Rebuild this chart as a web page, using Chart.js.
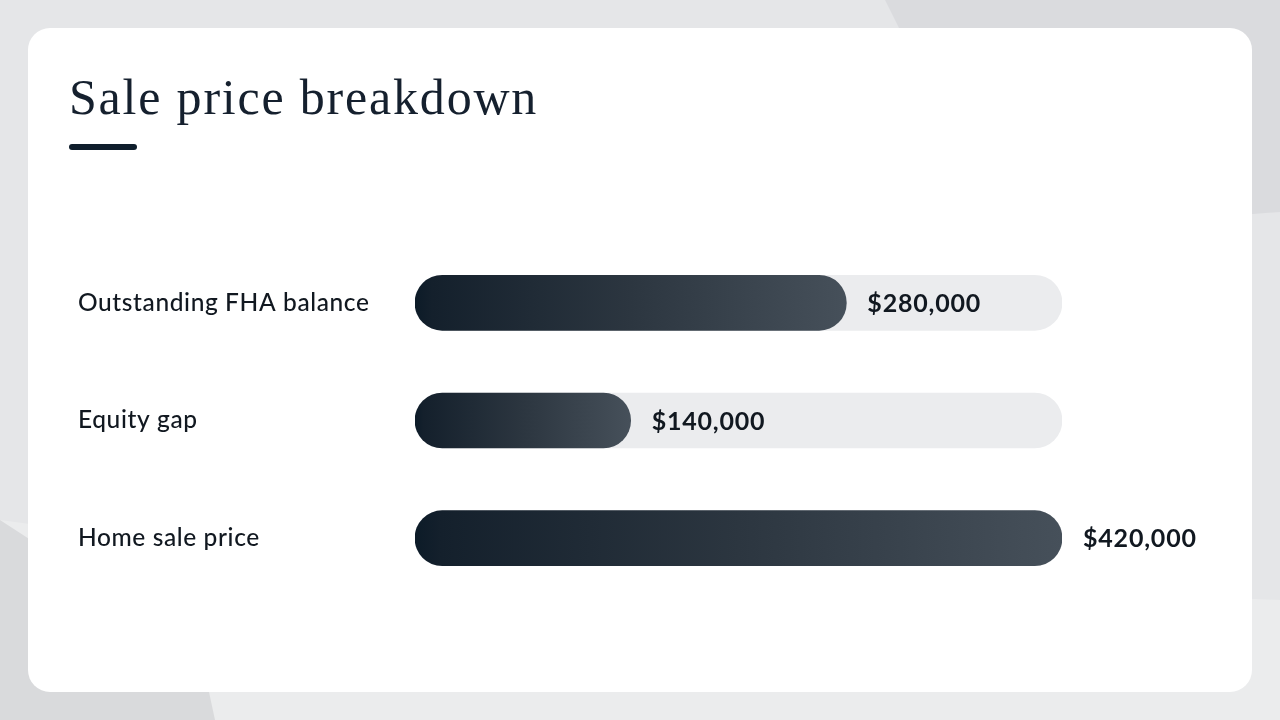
<!DOCTYPE html>
<html>
<head>
<meta charset="utf-8">
<script src="https://cdn.jsdelivr.net/npm/chart.js@4.4.1/dist/chart.umd.min.js"></script>
<style>
    html, body { margin: 0; padding: 0; }
    body {
        width: 1280px;
        height: 720px;
        position: relative;
        overflow: hidden;
        background: #e5e6e8;
    }
    .shape { position: absolute; left: 0; top: 0; width: 1280px; height: 720px; }
    #shapeTop { background: #dadbde; clip-path: polygon(885px 0, 1280px 0, 1280px 212px, 1240px 215px, 905px 40px); }
    #shapeBottom { background: #ebeced; clip-path: polygon(0 520px, 300px 560px, 1280px 600px, 1280px 720px, 215px 720px, 0 700px); }
    #shapeCorner { background: #d9dadc; clip-path: polygon(0 520px, 200px 650px, 215px 720px, 0 720px); }
    .card {
        position: absolute;
        left: 28px;
        top: 28px;
        width: 1224px;
        height: 664px;
        background: #ffffff;
        border-radius: 22px;
    }
    h1 {
        position: absolute;
        left: 69px;
        top: 67px;
        margin: 0;
        font-family: "Liberation Serif", serif;
        font-weight: normal;
        font-size: 50px;
        line-height: 60px;
        color: #15202e;
        letter-spacing: 1.8px;
    }
    .rule {
        position: absolute;
        left: 69px;
        top: 144px;
        width: 68px;
        height: 6px;
        border-radius: 3px;
        background: #0f1e2c;
    }
    #chartBox { position: absolute; left: 0; top: 0; width: 1280px; height: 720px; }
</style>
</head>
<body>
<div class="shape" id="shapeTop"></div>
<div class="shape" id="shapeBottom"></div>
<div class="shape" id="shapeCorner"></div>
<div class="card"></div>
<h1>Sale price breakdown</h1>
<div class="rule"></div>
<div id="chartBox"><canvas id="ct-chart"></canvas></div>

<script>
"use strict";
const categories = ["Outstanding FHA balance", "Equity gap", "Home sale price"];
const amounts = [280000, 140000, 420000];
const trackMax = 420000;
const trackValues = [trackMax, trackMax, trackMax];

const fmt = v => "$" + v.toLocaleString("en-US");

// gradient per bar, from axis start to bar end
function barGradient(context) {
    const chart = context.chart;
    const xScale = chart.scales.x;
    if (!chart.chartArea || !xScale) return "#2a333d";
    const v = context.raw;
    const x0 = xScale.getPixelForValue(0);
    const x1 = xScale.getPixelForValue(v);
    const g = chart.ctx.createLinearGradient(x0, 0, x1, 0);
    g.addColorStop(0, "#0c1b28");
    g.addColorStop(0.04, "#14202c");
    g.addColorStop(0.5, "#2c3640");
    g.addColorStop(1, "#46505a");
    return g;
}

// a little tracking so the labels get the width of the original font
const spacing = {
    id: "spacing",
    beforeDraw(chart) { chart.ctx.letterSpacing = "0.6px"; },
    afterDraw(chart) { chart.ctx.letterSpacing = "0px"; }
};

const valueLabels = {
    id: "valueLabels",
    afterDatasetsDraw(chart) {
        const ctx = chart.ctx;
        const meta = chart.getDatasetMeta(0);
        ctx.save();
        ctx.font = "bold 25px Lato";
        ctx.letterSpacing = "0.8px";
        ctx.fillStyle = "#111820";
        ctx.textBaseline = "middle";
        meta.data.forEach((bar, i) => {
            ctx.fillText(fmt(amounts[i]), bar.x + 21, bar.y + 1);
        });
        ctx.restore();
    }
};

const ctx = document.getElementById("ct-chart").getContext("2d");
new Chart(ctx, {
    type: "bar",
    data: {
        labels: categories,
        datasets: [{
            label: "Amount",
            data: amounts,
            backgroundColor: barGradient,
            borderRadius: 28,
            borderSkipped: false,
            barThickness: 55,
            order: 0
        }, {
            label: "Track",
            data: trackValues,
            backgroundColor: "#ebecee",
            borderRadius: 28,
            borderSkipped: false,
            barThickness: 55,
            order: 1
        }]
    },
    plugins: [spacing, valueLabels],
    options: {
        indexAxis: "y",
        responsive: true,
        maintainAspectRatio: false,
        animation: false,
        grouped: false,
        layout: {
            padding: { left: 78, right: 218, top: 244, bottom: 123 }
        },
        scales: {
            x: {
                display: false,
                min: 0,
                max: trackMax
            },
            y: {
                grid: { display: false },
                border: { display: false },
                afterFit: scale => { scale.width = 337; },
                ticks: {
                    crossAlign: "far",
                    padding: 0,
                    color: "#111820",
                    font: { family: "Lato", size: 24.5, weight: "500" }
                }
            }
        },
        plugins: {
            legend: { display: false },
            tooltip: { enabled: false }
        }
    }
});
</script>
</body>
</html>
